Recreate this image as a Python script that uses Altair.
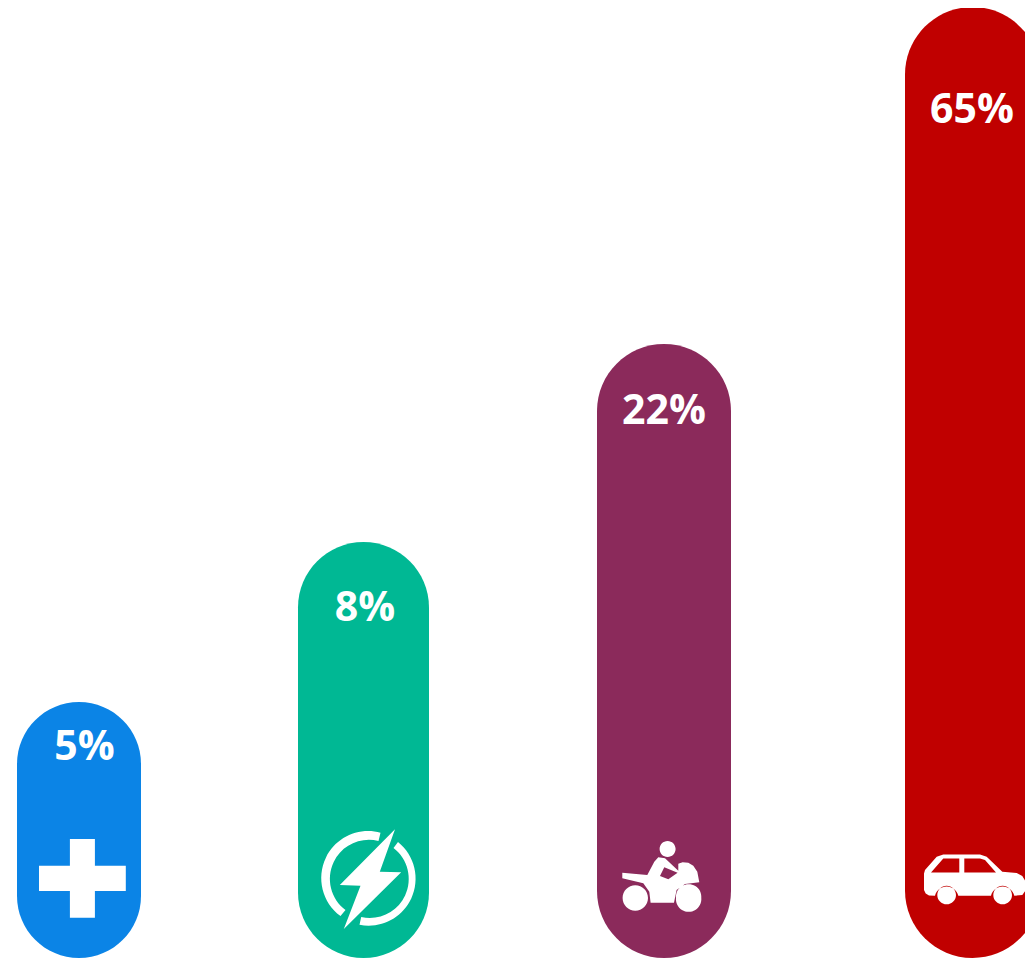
import math
import altair as alt
import pandas as pd

categories = ["health", "energy", "motorcycle", "car"]
labels = ["5%", "8%", "22%", "65%"]
bar_left = [17, 298, 597, 905]
bar_right = [141, 429, 731, 1040]
bar_value = [256, 416, 614, 951]
colors = ["#0B84E6", "#00B894", "#8B2A5B", "#C00000"]
label_x = [84.5, 365, 664, 972]
label_y = [210, 349, 546, 847]
icon_x = [82.4, 370, 662.3, 975]
icon_y = [79.6, 79, 83, 76.3]


def poly(points, cx, cy):
    return "M" + " L".join(f"{(x-cx)/3:.1f},{(y-cy)/3:.1f}" for x, y in points) + " Z"


def circle(x, y, r, cx, cy):
    px, py, pr = (x - cx) / 3, (y - cy) / 3, r / 3
    return (f"M{px-pr:.1f},{py:.1f} A{pr:.1f},{pr:.1f} 0 1 1 {px+pr:.1f},{py:.1f} "
            f"A{pr:.1f},{pr:.1f} 0 1 1 {px-pr:.1f},{py:.1f} Z")


plus = "M-12.5,-39.3 L12.5,-39.3 L12.5,-12.7 L43.4,-12.7 L43.4,12.7 L12.5,12.7 L12.5,39.3 L-12.5,39.3 L-12.5,12.7 L-43.4,12.7 L-43.4,-12.7 L-12.5,-12.7 Z"
bolt = ("M10.5,-46.3 A47,47 0 0 0 -29.5,37 L-24.5,31 A39,39 0 0 1 8.5,-38 Z "
        "M28,-37 A47,47 0 0 1 -10.5,45.8 L-8.8,38 A39,39 0 0 0 23.5,-31 Z "
        "M25,-49.7 L-30.2,6 L-9.5,6.7 L-26.2,50 L31.2,-6.7 L9.8,-7.3 Z")
mc = (157, 135)
moto = " ".join([
    poly([(37,128),(112,135),(133,95),(145,82),(165,85),(205,122),(205,101),(218,97),(235,98),(250,107),(262,125),(268,157),
          (225,162),(200,180),(192,218),(122,218),(118,185),(100,160),(37,145)], *mc),
    poly([(163,112),(150,138),(175,148),(203,128)], *mc),
    circle(173,57,24,*mc), circle(76,204,38,*mc), circle(236,204,38,*mc),
])
cc = (180, 125)
w = lambda x, y: f"{(x-cc[0])/3:.1f},{(y-cc[1])/3:.1f}"
car = " ".join([
    f"M{w(27,150)} L{w(32,160)} L{w(42,166)} L{w(60,167)} A12,12 0 0 1 {w(130,167)} L{w(228,167)} A12,12 0 0 1 {w(298,167)} "
    f"L{w(322,165)} L{w(333,150)} L{w(332,125)} L{w(322,108)} L{w(305,99)} L{w(262,95)} L{w(215,50)} L{w(195,43)} "
    f"L{w(85,43)} L{w(65,50)} L{w(30,90)} L{w(27,100)} Z",
    poly([(48,97),(85,55),(133,55),(133,97)], *cc),
    poly([(148,97),(148,55),(195,55),(210,60),(243,97)], *cc),
    circle(95,165,28,*cc), circle(263,165,28,*cc),
])
icons = [plus, bolt, moto, car]

df = pd.DataFrame(dict(category=categories, label=labels, left=bar_left, right=bar_right, value=bar_value,
                       color=colors, lx=label_x, ly=label_y, ix=icon_x, iy=icon_y))

xs = alt.Scale(domain=[8, 1025], range=[0, 1017])
ys = alt.Scale(domain=[0, 950], range=[950, 0])
X = lambda f: alt.X(f, type="quantitative", scale=xs, axis=None)
Y = lambda f: alt.Y(f, type="quantitative", scale=ys, axis=None)

bars = alt.Chart(df).mark_bar(cornerRadius=100, clip=False).encode(
    x=X("left"), x2="right", y=Y("value"), y2=alt.Y2(datum=0),
    color=alt.Color("color:N", scale=None, legend=None),
)
text = alt.Chart(df).mark_text(font="Open Sans", fontWeight="bold", fontSize=41, color="white",
                               align="center", baseline="middle").encode(
    x=X("lx"), y=Y("ly"), text="label:N")
layers = [bars, text]
for i, path in enumerate(icons):
    layers.append(
        alt.Chart(df.iloc[[i]]).mark_point(shape=path, size=4, filled=True, color="white", opacity=1, strokeWidth=0).encode(
            x=X("ix"), y=Y("iy"))
    )

chart = alt.layer(*layers).resolve_scale(x="shared", y="shared").properties(
    width=1017, height=950,
    padding={"left": 0, "top": 0, "right": 0, "bottom": 1},
    autosize=alt.AutoSizeParams(type="none"),
    background="white",
).configure_view(stroke=None)

chart.save("out.html", embed_options={"renderer": "svg", "actions": False})
